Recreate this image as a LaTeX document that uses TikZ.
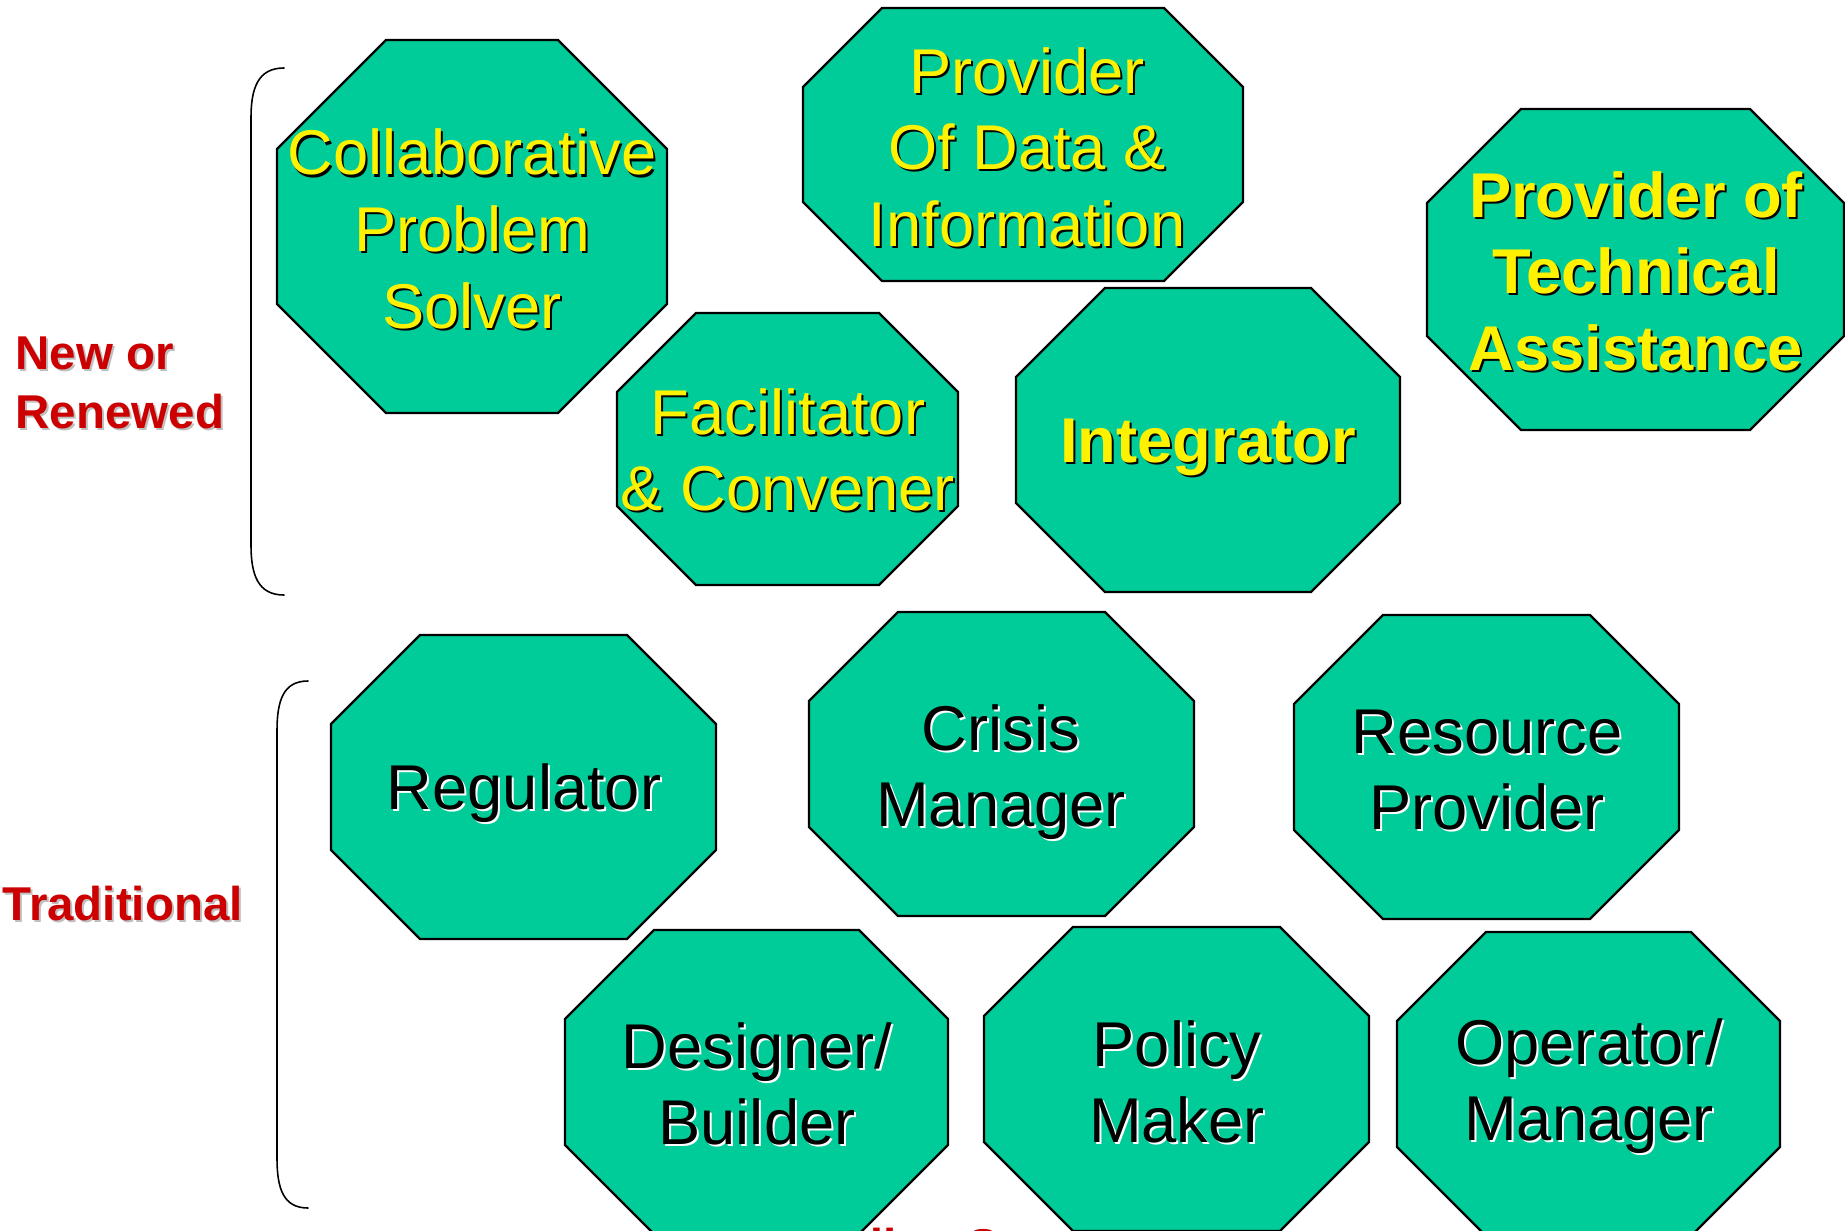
\documentclass[tikz,border=0pt]{standalone}
\usepackage{fontspec}
\setmainfont{Liberation Sans}
\definecolor{octgreen}{RGB}{0,204,153}
\definecolor{labelred}{RGB}{204,0,0}
\tikzset{
  octo/.style={fill=octgreen,draw=black,line width=0.65pt,line join=miter},
  newrole/.style={text=yellow,align=center,font=\fontsize{18}{21.8}\selectfont},
  newrole shadow/.style={text=black},
  newbold/.style={text=yellow,align=center,font=\fontsize{18}{21.8}\selectfont\bfseries},
  newbold shadow/.style={text=black},
  oldrole/.style={text=black,align=center,font=\fontsize{18}{21.8}\selectfont},
  oldrole shadow/.style={text=white},
  grouplabel/.style={text=labelred,align=left,anchor=west,inner sep=0pt,font=\fontsize{13.5}{16.7}\selectfont\bfseries},
  grouplabel shadow/.style={text=black!25},
  bracket/.style={draw=black,line width=0.45pt}
}
% octagon from (x1,y1) to (x2,y2), corner cut c
\newcommand{\octbox}[5]{%
  \draw[octo] ({#1+#5},#2) -- ({#3-#5},#2) -- (#3,{#2+#5}) -- (#3,{#4-#5})
    -- ({#3-#5},#4) -- ({#1+#5},#4) -- (#1,{#4-#5}) -- (#1,{#2+#5}) -- cycle;}
% text with its shadow: name, x, y, style, text
\newcommand{\rolenode}[5]{%
  \node[#4,#4 shadow] at ({#2+2},{#3+2}) {#5};
  \node[#4] (#1) at (#2,#3) {#5};}

\begin{document}
\begin{tikzpicture}[line cap=round,line join=round,x=0.1mm,y=-0.1mm]
\useasboundingbox (0,0) rectangle (1845,1231);

% footer, mostly hidden
\node[text=labelred,anchor=base west,font=\fontsize{13.5}{16}\selectfont\bfseries] (footer) at (752,1262) {Building Stones};

% new or renewed roles
\octbox{277}{40}{667}{413}{109}
\octbox{803}{8}{1243}{281}{79}
\octbox{1427}{109}{1844}{430}{94}
\octbox{617}{313}{958}{585}{79}
\octbox{1016}{288}{1400}{592}{89}
\rolenode{solver}{472}{229}{newrole}{Collaborative\\Problem\\Solver}
\rolenode{dataprov}{1027}{147}{newrole}{Provider\\Of Data \&\\Information}
\rolenode{techprov}{1636}{271}{newbold}{Provider of\\Technical\\Assistance}
\rolenode{facil}{788}{450}{newrole}{Facilitator\\\& Convener}
\rolenode{integr}{1208}{447}{newbold}{Integrator}

% traditional roles
\octbox{331}{635}{716}{939}{89}
\octbox{809}{612}{1194}{916}{89}
\octbox{1294}{615}{1679}{919}{89}
\octbox{565}{930}{948}{1234}{89}
\octbox{984}{927}{1369}{1231}{89}
\octbox{1397}{932}{1780}{1236}{89}
\rolenode{regul}{524}{793}{oldrole}{Regulator}
\rolenode{crisis}{1001}{772}{oldrole}{Crisis\\Manager}
\rolenode{resprov}{1487}{770}{oldrole}{Resource\\Provider}
\rolenode{designer}{757}{1084}{oldrole}{Designer/\\Builder}
\rolenode{policy}{1177}{1082}{oldrole}{Policy\\Maker}
\rolenode{operator}{1589}{1086}{oldrole}{Operator/\\Manager}

% group labels and brackets
\rolenode{newlbl}{15}{383}{grouplabel}{New or\\Renewed}
\rolenode{oldlbl}{2}{904}{grouplabel}{Traditional}
\draw[bracket] (284,68) .. controls (258,68) and (251,88) .. (251,118) -- (251,545)
  .. controls (251,575) and (258,595) .. (284,595);
\draw[bracket] (308,681) .. controls (283,681) and (277,701) .. (277,731) -- (277,1158)
  .. controls (277,1188) and (283,1208) .. (308,1208);
\end{tikzpicture}
\end{document}
